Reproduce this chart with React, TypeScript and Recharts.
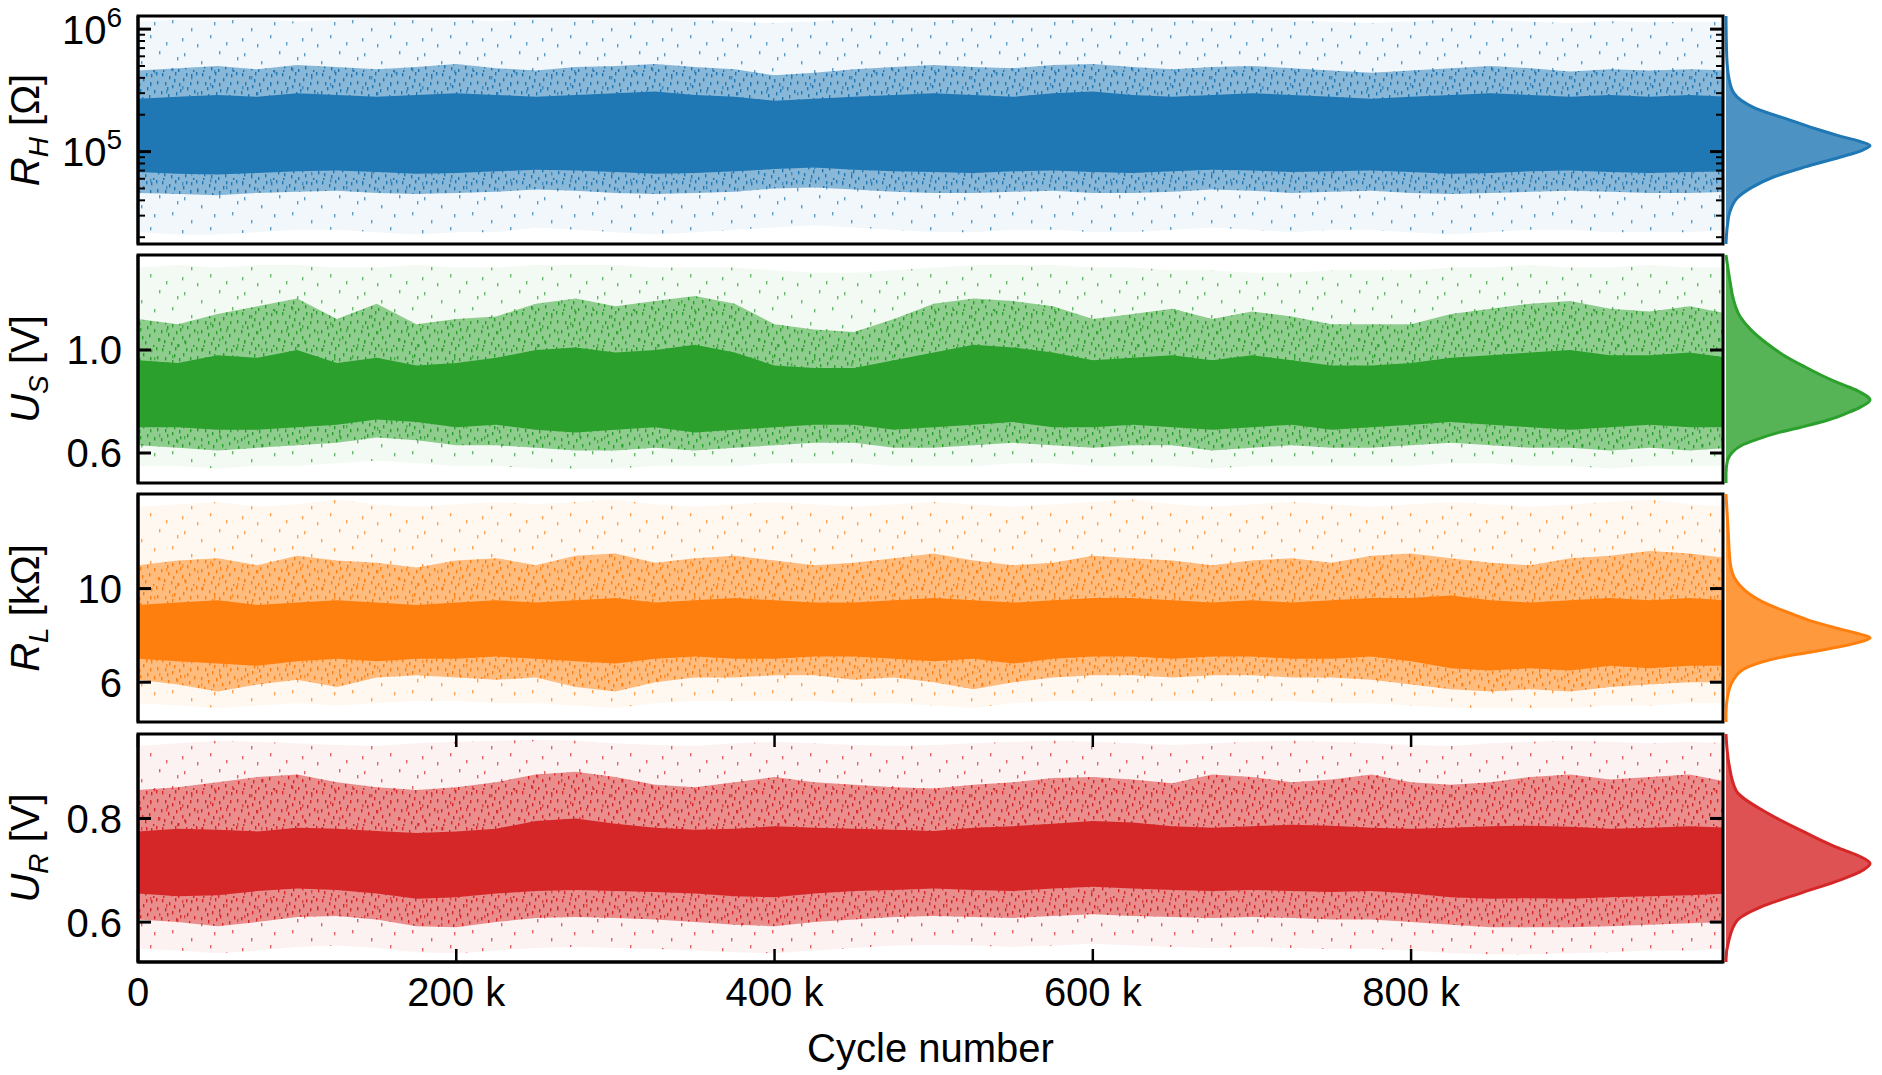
import React from 'react';
import { ComposedChart, AreaChart, Area, Line, XAxis, YAxis, ReferenceArea } from 'recharts';

const FONT = '"Liberation Sans", Arial, Helvetica, sans-serif';

// bin centres along the cycle axis (every 25 k)
const cycles = [
  0, 25000, 50000, 75000, 100000, 125000, 150000, 175000, 200000, 225000,
  250000, 275000, 300000, 325000, 350000, 375000, 400000, 425000, 450000, 475000,
  500000, 525000, 550000, 575000, 600000, 625000, 650000, 675000, 700000, 725000,
  750000, 775000, 800000, 825000, 850000, 875000, 900000, 925000, 950000, 975000, 1000000,
];

const cycleTicks = [0, 200000, 400000, 600000, 800000];
const cycleTickLabels = ['0', '200 k', '400 k', '600 k', '800 k'];

// ---- R_H [Ohm] (log axis) ----
const rhOutHi = [1.15e6, 1.2e6, 1.18e6, 1.22e6, 1.15e6, 1.2e6, 1.25e6, 1.18e6, 1.2e6, 1.16e6, 1.22e6, 1.2e6, 1.18e6, 1.24e6, 1.2e6, 1.15e6, 1.12e6, 1.16e6, 1.2e6, 1.22e6, 1.18e6, 1.2e6, 1.24e6, 1.2e6, 1.18e6, 1.22e6, 1.2e6, 1.16e6, 1.2e6, 1.18e6, 1.15e6, 1.12e6, 1.16e6, 1.2e6, 1.18e6, 1.15e6, 1.12e6, 1.16e6, 1.14e6, 1.15e6, 1.15e6];
const rhMidHi = [4.6e5, 4.8e5, 5.0e5, 4.7e5, 5.1e5, 4.9e5, 4.7e5, 4.9e5, 5.2e5, 4.8e5, 4.6e5, 4.9e5, 5.0e5, 5.2e5, 4.9e5, 4.7e5, 4.2e5, 4.4e5, 4.7e5, 4.9e5, 5.1e5, 4.9e5, 4.8e5, 5.1e5, 5.2e5, 4.9e5, 4.7e5, 4.9e5, 5.0e5, 4.8e5, 4.6e5, 4.4e5, 4.6e5, 4.8e5, 5.0e5, 4.8e5, 4.5e5, 4.7e5, 4.6e5, 4.7e5, 4.6e5];
const rhCoreHi = [2.7e5, 2.8e5, 2.9e5, 2.8e5, 3.0e5, 2.9e5, 2.8e5, 2.9e5, 3.0e5, 2.9e5, 2.8e5, 2.9e5, 3.0e5, 3.1e5, 2.9e5, 2.8e5, 2.6e5, 2.7e5, 2.8e5, 2.9e5, 3.0e5, 2.9e5, 2.8e5, 3.0e5, 3.1e5, 2.9e5, 2.8e5, 2.9e5, 3.0e5, 2.9e5, 2.8e5, 2.7e5, 2.8e5, 2.9e5, 3.0e5, 2.9e5, 2.8e5, 2.9e5, 2.8e5, 2.9e5, 2.8e5];
const rhCoreLo = [6.8e4, 6.6e4, 6.5e4, 6.7e4, 6.9e4, 7.0e4, 6.8e4, 6.6e4, 6.7e4, 6.9e4, 7.1e4, 7.0e4, 6.8e4, 6.6e4, 6.7e4, 6.9e4, 7.2e4, 7.4e4, 7.1e4, 6.9e4, 6.8e4, 6.7e4, 6.9e4, 7.0e4, 6.8e4, 6.7e4, 6.9e4, 7.1e4, 7.0e4, 6.8e4, 6.9e4, 7.0e4, 6.8e4, 6.6e4, 6.7e4, 6.9e4, 7.0e4, 6.8e4, 6.7e4, 6.8e4, 6.9e4];
const rhMidLo = [4.6e4, 4.5e4, 4.4e4, 4.6e4, 4.7e4, 4.8e4, 4.6e4, 4.5e4, 4.6e4, 4.7e4, 4.9e4, 4.8e4, 4.6e4, 4.5e4, 4.6e4, 4.7e4, 5.0e4, 5.1e4, 4.9e4, 4.7e4, 4.6e4, 4.6e4, 4.7e4, 4.8e4, 4.6e4, 4.6e4, 4.7e4, 4.9e4, 4.8e4, 4.6e4, 4.7e4, 4.8e4, 4.6e4, 4.5e4, 4.6e4, 4.7e4, 4.8e4, 4.7e4, 4.6e4, 4.6e4, 4.7e4];
const rhOutLo = [2.2e4, 2.1e4, 2.1e4, 2.2e4, 2.3e4, 2.3e4, 2.2e4, 2.1e4, 2.2e4, 2.2e4, 2.4e4, 2.3e4, 2.2e4, 2.1e4, 2.2e4, 2.3e4, 2.4e4, 2.5e4, 2.4e4, 2.3e4, 2.2e4, 2.2e4, 2.3e4, 2.3e4, 2.2e4, 2.2e4, 2.3e4, 2.4e4, 2.3e4, 2.2e4, 2.3e4, 2.3e4, 2.2e4, 2.1e4, 2.2e4, 2.3e4, 2.3e4, 2.2e4, 2.2e4, 2.2e4, 2.3e4];
const rhTicks = [20000, 30000, 40000, 50000, 60000, 70000, 80000, 90000, 100000, 200000, 300000, 400000, 500000, 600000, 700000, 800000, 900000, 1000000];
const rhMajor = [100000, 1000000];
const rhMajorExp = ['5', '6'];
const rhKdeLevel = [17600, 25000, 33000, 42000, 51000, 62000, 75000, 90000, 103000, 112000, 122000, 135000, 150000, 180000, 230000, 300000, 400000, 600000, 1280000];
const rhKdeDensity = [0, 0.01, 0.03, 0.08, 0.18, 0.33, 0.55, 0.79, 0.95, 1.0, 0.92, 0.78, 0.65, 0.45, 0.19, 0.055, 0.02, 0.005, 0];

// ---- U_S [V] ----
const usOutHi = [1.32, 1.33, 1.32, 1.33, 1.33, 1.32, 1.32, 1.33, 1.32, 1.32, 1.33, 1.33, 1.33, 1.32, 1.32, 1.32, 1.31, 1.30, 1.30, 1.31, 1.32, 1.33, 1.33, 1.33, 1.32, 1.32, 1.31, 1.31, 1.30, 1.30, 1.31, 1.31, 1.31, 1.32, 1.32, 1.33, 1.32, 1.32, 1.33, 1.32, 1.32];
const usMidHi = [1.12, 1.10, 1.14, 1.17, 1.20, 1.12, 1.18, 1.10, 1.12, 1.13, 1.18, 1.20, 1.17, 1.19, 1.21, 1.18, 1.10, 1.08, 1.07, 1.12, 1.18, 1.20, 1.19, 1.17, 1.12, 1.14, 1.16, 1.12, 1.15, 1.13, 1.10, 1.10, 1.10, 1.14, 1.16, 1.18, 1.19, 1.16, 1.15, 1.17, 1.14];
const usCoreHi = [0.96, 0.95, 0.98, 0.97, 1.00, 0.95, 0.97, 0.94, 0.95, 0.97, 1.00, 1.01, 0.99, 1.00, 1.02, 0.99, 0.94, 0.93, 0.93, 0.96, 0.99, 1.02, 1.01, 0.99, 0.96, 0.97, 0.98, 0.96, 0.98, 0.96, 0.94, 0.94, 0.95, 0.97, 0.98, 0.99, 1.00, 0.98, 0.98, 0.99, 0.97];
const usCoreLo = [0.70, 0.70, 0.69, 0.69, 0.70, 0.71, 0.73, 0.72, 0.70, 0.71, 0.69, 0.68, 0.69, 0.70, 0.68, 0.69, 0.70, 0.71, 0.71, 0.69, 0.70, 0.71, 0.72, 0.70, 0.70, 0.71, 0.70, 0.69, 0.70, 0.71, 0.69, 0.70, 0.71, 0.72, 0.71, 0.70, 0.69, 0.70, 0.71, 0.70, 0.70];
const usMidLo = [0.63, 0.62, 0.61, 0.62, 0.63, 0.64, 0.66, 0.65, 0.63, 0.63, 0.62, 0.61, 0.61, 0.62, 0.61, 0.62, 0.63, 0.64, 0.64, 0.62, 0.62, 0.63, 0.64, 0.63, 0.62, 0.63, 0.63, 0.61, 0.62, 0.63, 0.62, 0.62, 0.63, 0.64, 0.63, 0.62, 0.62, 0.61, 0.62, 0.61, 0.62];
const usOutLo = [0.55, 0.55, 0.54, 0.55, 0.55, 0.56, 0.57, 0.56, 0.55, 0.55, 0.54, 0.54, 0.54, 0.55, 0.55, 0.55, 0.56, 0.56, 0.56, 0.55, 0.55, 0.55, 0.56, 0.56, 0.55, 0.55, 0.55, 0.54, 0.55, 0.55, 0.55, 0.55, 0.55, 0.56, 0.56, 0.55, 0.55, 0.54, 0.55, 0.55, 0.55];
const usTicks = [0.6, 1.0];
const usTickLabels = ['0.6', '1.0'];
const usKdeLevel = [0.4835, 0.52, 0.57, 0.60, 0.63, 0.65, 0.68, 0.70, 0.73, 0.755, 0.78, 0.806, 0.84, 0.872, 0.90, 0.934, 0.98, 1.027, 1.08, 1.128, 1.2, 1.26, 1.369];
const usKdeDensity = [0, 0, 0.01, 0.04, 0.11, 0.2, 0.37, 0.52, 0.72, 0.84, 0.94, 1.0, 0.92, 0.78, 0.67, 0.55, 0.40, 0.28, 0.17, 0.1, 0.05, 0.03, 0];

// ---- R_L [kOhm] ----
const rlOutHi = [13.5, 13.6, 13.7, 13.5, 13.6, 13.8, 13.6, 13.5, 13.6, 13.7, 13.6, 13.7, 13.8, 13.6, 13.5, 13.6, 13.7, 13.6, 13.5, 13.6, 13.7, 13.6, 13.5, 13.6, 13.7, 13.8, 13.6, 13.5, 13.6, 13.7, 13.6, 13.5, 13.6, 13.7, 13.6, 13.5, 13.6, 13.7, 13.8, 13.6, 13.5];
const rlMidHi = [11.0, 11.2, 11.3, 11.0, 11.4, 11.2, 11.1, 10.9, 11.2, 11.3, 11.0, 11.4, 11.5, 11.1, 11.3, 11.4, 11.2, 11.0, 11.1, 11.3, 11.5, 11.2, 11.0, 11.1, 11.4, 11.3, 11.2, 11.0, 11.2, 11.3, 11.1, 11.4, 11.5, 11.3, 11.1, 11.0, 11.3, 11.4, 11.6, 11.5, 11.3];
const rlCoreHi = [9.3, 9.4, 9.5, 9.3, 9.4, 9.5, 9.4, 9.3, 9.4, 9.5, 9.4, 9.5, 9.6, 9.4, 9.5, 9.6, 9.5, 9.4, 9.4, 9.5, 9.6, 9.5, 9.4, 9.5, 9.6, 9.6, 9.5, 9.4, 9.5, 9.4, 9.5, 9.6, 9.6, 9.7, 9.5, 9.4, 9.5, 9.6, 9.5, 9.6, 9.5];
const rlCoreLo = [7.0, 6.9, 6.8, 6.7, 6.9, 7.0, 6.9, 7.0, 7.0, 7.1, 7.0, 6.9, 6.8, 7.0, 7.1, 7.0, 7.0, 7.1, 7.1, 7.0, 6.9, 7.0, 6.8, 7.0, 7.1, 7.1, 7.0, 7.1, 7.1, 7.0, 7.0, 7.1, 6.9, 6.6, 6.5, 6.6, 6.5, 6.7, 6.6, 6.7, 6.7];
const rlMidLo = [6.1, 5.9, 5.6, 5.9, 6.1, 5.8, 6.2, 6.3, 6.2, 6.1, 6.2, 5.8, 5.6, 6.0, 6.2, 6.2, 6.3, 6.3, 6.1, 6.2, 6.0, 5.7, 6.0, 6.2, 6.3, 6.3, 6.2, 6.3, 6.3, 6.2, 6.2, 6.1, 5.9, 5.7, 5.6, 5.7, 5.6, 5.8, 5.9, 6.0, 6.0];
const rlOutLo = [5.1, 5.0, 4.9, 5.0, 5.1, 5.0, 5.1, 5.2, 5.2, 5.1, 5.1, 5.0, 4.9, 5.1, 5.2, 5.2, 5.2, 5.2, 5.1, 5.1, 5.0, 4.9, 5.1, 5.2, 5.2, 5.2, 5.2, 5.2, 5.2, 5.2, 5.1, 5.1, 5.0, 4.9, 4.9, 4.9, 4.9, 5.0, 5.0, 5.1, 5.1];
const rlTicks = [6, 10];
const rlTickLabels = ['6', '10'];
const rlKdeLevel = [4.30, 4.68, 5.36, 6.09, 6.64, 7.06, 7.3, 7.49, 7.7, 7.91, 8.1, 8.34, 8.6, 8.94, 9.3, 9.62, 10.34, 11.06, 12.47, 14.04];
const rlKdeDensity = [0, 0, 0.01, 0.05, 0.15, 0.38, 0.6, 0.77, 0.92, 1.0, 0.9, 0.75, 0.6, 0.45, 0.3, 0.2, 0.07, 0.03, 0.015, 0];

// ---- U_R [V] ----
const urOutHi = [0.940, 0.945, 0.950, 0.948, 0.945, 0.942, 0.940, 0.945, 0.948, 0.950, 0.952, 0.950, 0.945, 0.942, 0.940, 0.945, 0.948, 0.945, 0.942, 0.940, 0.942, 0.945, 0.948, 0.950, 0.948, 0.945, 0.942, 0.945, 0.948, 0.950, 0.948, 0.945, 0.942, 0.940, 0.945, 0.948, 0.950, 0.948, 0.945, 0.948, 0.945];
const urMidHi = [0.855, 0.860, 0.870, 0.880, 0.885, 0.870, 0.860, 0.855, 0.860, 0.870, 0.885, 0.890, 0.880, 0.865, 0.860, 0.870, 0.880, 0.870, 0.865, 0.860, 0.858, 0.865, 0.870, 0.878, 0.880, 0.875, 0.868, 0.885, 0.880, 0.870, 0.875, 0.885, 0.870, 0.865, 0.870, 0.880, 0.885, 0.875, 0.880, 0.885, 0.870];
const urCoreHi = [0.775, 0.780, 0.778, 0.775, 0.782, 0.780, 0.776, 0.772, 0.775, 0.780, 0.795, 0.800, 0.790, 0.782, 0.778, 0.780, 0.785, 0.782, 0.780, 0.778, 0.776, 0.782, 0.785, 0.790, 0.795, 0.792, 0.785, 0.782, 0.785, 0.788, 0.786, 0.782, 0.780, 0.782, 0.785, 0.786, 0.784, 0.780, 0.782, 0.785, 0.782];
const urCoreLo = [0.655, 0.650, 0.652, 0.660, 0.665, 0.662, 0.655, 0.645, 0.648, 0.655, 0.660, 0.662, 0.660, 0.658, 0.655, 0.650, 0.648, 0.655, 0.660, 0.662, 0.665, 0.662, 0.660, 0.665, 0.668, 0.665, 0.662, 0.660, 0.662, 0.660, 0.658, 0.660, 0.655, 0.648, 0.645, 0.646, 0.645, 0.648, 0.650, 0.652, 0.655];
const urMidLo = [0.605, 0.600, 0.592, 0.600, 0.610, 0.612, 0.605, 0.592, 0.590, 0.600, 0.608, 0.610, 0.608, 0.605, 0.600, 0.595, 0.592, 0.600, 0.605, 0.610, 0.612, 0.610, 0.608, 0.612, 0.615, 0.612, 0.610, 0.608, 0.610, 0.608, 0.605, 0.605, 0.600, 0.595, 0.590, 0.590, 0.590, 0.592, 0.595, 0.598, 0.600];
const urOutLo = [0.548, 0.545, 0.540, 0.545, 0.552, 0.555, 0.550, 0.542, 0.540, 0.545, 0.550, 0.552, 0.550, 0.548, 0.545, 0.542, 0.540, 0.545, 0.550, 0.555, 0.556, 0.555, 0.552, 0.555, 0.558, 0.555, 0.552, 0.550, 0.552, 0.550, 0.548, 0.548, 0.545, 0.540, 0.538, 0.538, 0.540, 0.542, 0.545, 0.545, 0.548];
const urTicks = [0.6, 0.8];
const urTickLabels = ['0.6', '0.8'];
const urKdeLevel = [0.523, 0.527, 0.565, 0.604, 0.629, 0.656, 0.681, 0.70, 0.713, 0.728, 0.744, 0.777, 0.81, 0.854, 0.906, 0.963];
const urKdeDensity = [0, 0, 0.02, 0.08, 0.24, 0.52, 0.79, 0.95, 1.0, 0.92, 0.77, 0.52, 0.29, 0.07, 0.02, 0];

// layout (px)
const PLOT_LEFT = 138;
const PLOT_RIGHT = 1723;
const PLOT_W = PLOT_RIGHT - PLOT_LEFT;
const PLOT_H = 228;
const PANEL_TOPS = [16, 255, 494, 734];
const M_TOP = 16;
const M_BOTTOM = 12;
const X_MAX = 996000;

// speckle texture for the scattered zones (short vertical dashes, like the plotted dots)
const midSpeckle = [[2, 1], [9, 4], [15, 0], [23, 6], [31, 2], [37, 9], [5, 10], [12, 13], [19, 11], [27, 15], [34, 18], [1, 19], [8, 22], [16, 20], [22, 25], [29, 23], [38, 27], [4, 29], [11, 31], [18, 33], [25, 30], [33, 34], [14, 7], [36, 0], [20, 17], [7, 15], [30, 10], [26, 1], [13, 26], [3, 34]];
const outSpeckle = [[4, 5], [21, 13], [39, 3], [52, 20], [11, 28], [30, 35], [46, 42], [17, 44], [57, 9], [34, 22], [2, 38]];

type PanelDef = {
  id: string;
  color: string;
  domain: [number, number];
  log: boolean;
  ticks: number[];
  major: number[];
  label: (v: number) => React.ReactNode;
  title: [string, string, string];
  bands: { outLo: number[]; outHi: number[]; midLo: number[]; midHi: number[]; coreLo: number[]; coreHi: number[] };
  kdeLevel: number[];
  kdeDensity: number[];
};

const panels: PanelDef[] = [
  {
    id: 'rh', color: '#1f77b4', domain: [17600, 1280000], log: true,
    ticks: rhTicks, major: rhMajor,
    label: (v) => (<>10<tspan dy={-17} fontSize={28}>{rhMajorExp[rhMajor.indexOf(v)]}</tspan></>),
    title: ['R', 'H', ' [Ω]'],
    bands: { outLo: rhOutLo, outHi: rhOutHi, midLo: rhMidLo, midHi: rhMidHi, coreLo: rhCoreLo, coreHi: rhCoreHi },
    kdeLevel: rhKdeLevel, kdeDensity: rhKdeDensity,
  },
  {
    id: 'us', color: '#2ca02c', domain: [0.4835, 1.369], log: false,
    ticks: usTicks, major: usTicks,
    label: (v) => usTickLabels[usTicks.indexOf(v)],
    title: ['U', 'S', ' [V]'],
    bands: { outLo: usOutLo, outHi: usOutHi, midLo: usMidLo, midHi: usMidHi, coreLo: usCoreLo, coreHi: usCoreHi },
    kdeLevel: usKdeLevel, kdeDensity: usKdeDensity,
  },
  {
    id: 'rl', color: '#ff7f0e', domain: [4.3, 14.04], log: false,
    ticks: rlTicks, major: rlTicks,
    label: (v) => rlTickLabels[rlTicks.indexOf(v)],
    title: ['R', 'L', ' [kΩ]'],
    bands: { outLo: rlOutLo, outHi: rlOutHi, midLo: rlMidLo, midHi: rlMidHi, coreLo: rlCoreLo, coreHi: rlCoreHi },
    kdeLevel: rlKdeLevel, kdeDensity: rlKdeDensity,
  },
  {
    id: 'ur', color: '#d62728', domain: [0.523, 0.963], log: false,
    ticks: urTicks, major: urTicks,
    label: (v) => urTickLabels[urTicks.indexOf(v)],
    title: ['U', 'R', ' [V]'],
    bands: { outLo: urOutLo, outHi: urOutHi, midLo: urMidLo, midHi: urMidHi, coreLo: urCoreLo, coreHi: urCoreHi },
    kdeLevel: urKdeLevel, kdeDensity: urKdeDensity,
  },
];

const textStyle = { fontFamily: FONT, fontSize: 40, fill: '#000' };

// left tick also draws its mirrored twin on the right frame
const yTick = (p: PanelDef) => (props: any) => {
  const { x, y, payload } = props;
  const v = payload.value;
  const major = p.major.includes(v);
  const len = major ? 13 : 7;
  const sw = major ? 3 : 2;
  return (
    <g>
      <line x1={x} y1={y} x2={x + len} y2={y} stroke="#000" strokeWidth={sw} />
      <line x1={x + PLOT_W} y1={y} x2={x + PLOT_W - len} y2={y} stroke="#000" strokeWidth={sw} />
      {major && (
        <text x={x - 16} y={y} dy="0.36em" textAnchor="end" style={textStyle}>
          {p.label(v)}
        </text>
      )}
    </g>
  );
};

// bottom tick also draws its mirrored twin on the top frame
const xTick = (withLabels: boolean) => (props: any) => {
  const { x, y, payload } = props;
  const i = cycleTicks.indexOf(payload.value);
  return (
    <g>
      <line x1={x} y1={y} x2={x} y2={y - 13} stroke="#000" strokeWidth={2.5} />
      <line x1={x} y1={y - PLOT_H} x2={x} y2={y - PLOT_H + 13} stroke="#000" strokeWidth={2.5} />
      {withLabels && (
        <text x={x} y={y + 44} textAnchor="middle" style={textStyle}>
          {cycleTickLabels[i]}
        </text>
      )}
    </g>
  );
};

const yTitle = (p: PanelDef) => (props: any) => {
  const vb = props.viewBox || {};
  const cy = (vb.y ?? 0) + (vb.height ?? PLOT_H) / 2;
  const bx = 39;
  return (
    <text transform={`rotate(-90 ${bx} ${cy})`} x={bx} y={cy} textAnchor="middle" style={textStyle}>
      <tspan fontStyle="italic">{p.title[0]}</tspan>
      <tspan fontStyle="italic" fontSize={28} dy={9}>{p.title[1]}</tspan>
      <tspan dy={-9}>{p.title[2]}</tspan>
    </text>
  );
};

const xTitle = (props: any) => {
  const vb = props.viewBox || {};
  return (
    <text x={(vb.x ?? 0) + (vb.width ?? 0) / 2} y={(vb.y ?? 0) + 100} textAnchor="middle" style={textStyle}>
      Cycle number
    </text>
  );
};

const axisLine = { stroke: '#000', strokeWidth: 3 };

function MainPanel({ p, top, last }: { p: PanelDef; top: number; last: boolean }) {
  const rows = cycles.map((x, i) => ({
    x,
    out: [p.bands.outLo[i], p.bands.outHi[i]],
    mid: [p.bands.midLo[i], p.bands.midHi[i]],
    core: [p.bands.coreLo[i], p.bands.coreHi[i]],
  }));
  const bottomH = last ? 110 : 0;
  const height = M_TOP + PLOT_H + (last ? 0 : M_BOTTOM) + bottomH;
  const width = PLOT_RIGHT + 10;
  const scale = p.log ? 'log' : 'linear';
  const margin = { top: M_TOP, right: 10, bottom: last ? 0 : M_BOTTOM, left: 0 };
  const layer: React.CSSProperties = { position: 'absolute', left: 0, top: 0 };
  return (
    <div style={{ position: 'absolute', left: 0, top: top - M_TOP, width, height }}>
      {/* scatter cloud, drawn as density bands */}
      <div style={layer}>
        <ComposedChart width={width} height={height} data={rows} margin={margin}>
          <defs>
            <pattern id={`mid-${p.id}`} width={40} height={36} patternUnits="userSpaceOnUse">
              <rect width={40} height={36} fill={p.color} fillOpacity={0.5} />
              {midSpeckle.map(([sx, sy], k) => (
                <rect key={k} x={sx} y={sy} width={1.4} height={3.4} fill={p.color} />
              ))}
            </pattern>
            <pattern id={`out-${p.id}`} width={60} height={48} patternUnits="userSpaceOnUse">
              <rect width={60} height={48} fill={p.color} fillOpacity={0.06} />
              {outSpeckle.map(([sx, sy], k) => (
                <rect key={k} x={sx} y={sy} width={1.4} height={3.4} fill={p.color} fillOpacity={0.7} />
              ))}
            </pattern>
          </defs>
          <Area type="linear" dataKey="out" stroke="none" fill={`url(#out-${p.id})`} fillOpacity={1} isAnimationActive={false} />
          <Area type="linear" dataKey="mid" stroke="none" fill={`url(#mid-${p.id})`} fillOpacity={1} isAnimationActive={false} />
          <Area type="linear" dataKey="core" stroke="none" fill={p.color} fillOpacity={1} isAnimationActive={false} />
          <XAxis type="number" dataKey="x" domain={[0, X_MAX]} allowDataOverflow height={bottomH}
            tick={false} tickLine={false} axisLine={false} />
          <YAxis type="number" scale={scale} domain={p.domain} allowDataOverflow width={PLOT_LEFT}
            tick={false} tickLine={false} axisLine={false} />
        </ComposedChart>
      </div>
      {/* frame, ticks and labels on top */}
      <div style={layer}>
        <ComposedChart width={width} height={height} data={rows} margin={margin}>
          <Line dataKey={(d: any) => d.core[1]} stroke="none" dot={false} activeDot={false} isAnimationActive={false} />
          <ReferenceArea x1={0} x2={X_MAX} y1={p.domain[0]} y2={p.domain[1]} fill="none" stroke="#000" strokeWidth={3} />
          <XAxis type="number" dataKey="x" domain={[0, X_MAX]} allowDataOverflow
            ticks={cycleTicks} interval={0} height={bottomH} tickSize={0} tickMargin={0} tickLine={false}
            axisLine={axisLine} tick={xTick(last)} label={last ? xTitle : undefined} />
          <YAxis type="number" scale={scale} domain={p.domain} allowDataOverflow
            ticks={p.ticks} interval={0} width={PLOT_LEFT} tickSize={0} tickMargin={0} tickLine={false}
            axisLine={axisLine} tick={yTick(p)} label={yTitle(p)} />
        </ComposedChart>
      </div>
    </div>
  );
}

function KdePanel({ p, top }: { p: PanelDef; top: number }) {
  const rows = p.kdeLevel.map((level, i) => ({ level, dens: p.kdeDensity[i] })).reverse();
  const height = M_TOP + PLOT_H + M_BOTTOM;
  return (
    <div style={{ position: 'absolute', left: 1724, top: top - M_TOP, width: 160, height }}>
      <AreaChart layout="vertical" width={160} height={height} data={rows}
        margin={{ top: M_TOP, right: 14, bottom: M_BOTTOM, left: 2 }}>
        <XAxis type="number" domain={[0, 1]} hide />
        <YAxis type="number" dataKey="level" scale={p.log ? 'log' : 'linear'} domain={p.domain} reversed hide />
        <Area type="monotone" dataKey="dens" stroke={p.color} strokeWidth={3} fill={p.color} fillOpacity={0.8} isAnimationActive={false} />
      </AreaChart>
    </div>
  );
}

export default function App() {
  return (
    <div style={{ position: 'absolute', left: 0, top: 0, width: 1882, height: 1075, background: '#fff', fontFamily: FONT }}>
      {panels.map((p, i) => (
        <MainPanel key={p.id} p={p} top={PANEL_TOPS[i]} last={i === panels.length - 1} />
      ))}
      {panels.map((p, i) => (
        <KdePanel key={`kde-${p.id}`} p={p} top={PANEL_TOPS[i]} />
      ))}
    </div>
  );
}
